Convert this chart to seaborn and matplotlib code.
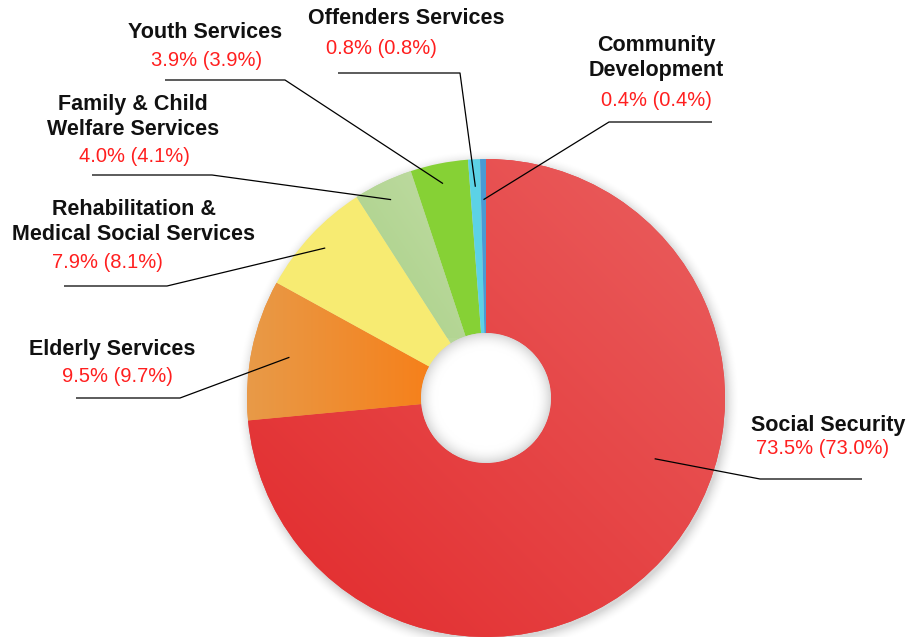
import numpy as np
import matplotlib
matplotlib.use("Agg")
import matplotlib.pyplot as plt
import matplotlib.colors as mcolors
from matplotlib.patches import Circle
import seaborn as sns

# data
categories = ["Social Security", "Elderly Services",
              "Rehabilitation &\nMedical Social Services",
              "Family & Child\nWelfare Services", "Youth Services",
              "Offenders Services", "Community\nDevelopment"]
share = [73.5, 9.5, 7.9, 4.0, 3.9, 0.8, 0.4]
share_prev = [73.0, 9.7, 8.1, 4.1, 3.9, 0.8, 0.4]

colors = ["#e63a3c", "#ec8d35", "#f7eb72", "#b6d797", "#86d135", "#5cd2e6", "#4a9ad3"]
# gradient end points for the shaded wedges
grads = {0: ("#e22a2c", "#ea5f5f"), 1: ("#e89a48", "#f6801a"), 3: ("#a7cf84", "#c2dda6")}

# layout in pixels (y down): title x, title y, pct x, pct y, elbow, line end, anchor radius, anchor frac
W, H = 906, 637
CX, CY, R, R_IN = 486, 398, 239, 65
layout = [
    (828, 426, 823, 449, (760, 479), (862, 479), 0.75, 0.415),
    (112, 349, 117, 377, (180, 398), (76, 398), 0.84, 0.5),
    (134, 222, 107, 262, (167, 286), (64, 286), 0.92, 0.5),
    (133, 117, 134, 156, (212, 175), (92, 175), 0.92, 0.5),
    (205, 32, 207, 60, (285, 80), (165, 80), 0.915, 0.5),
    (406, 19, 381, 48, (460, 73), (338, 73), 0.885, 0.5),
    (656, 58, 656, 100, (609, 122), (712, 122), 0.83, 0.5),
]


def fy(y):
    return H - y


sns.set_style("white")
plt.rcParams['font.family'] = ['Liberation Sans', 'DejaVu Sans']

fig = plt.figure(figsize=(W / 100, H / 100), dpi=100)
ax = fig.add_axes([0, 0, 1, 1])

# soft shadow round the ring
n = 600
gx, gy = np.meshgrid(np.linspace(-R - 30, R + 30, n), np.linspace(-R - 30, R + 30, n))
d = np.hypot(gx - 2, gy + 3) - R
alpha = np.clip(1 - d / 14, 0, 1) ** 2 * 0.16
alpha[d < 0] = 0.16
shadow = np.zeros((n, n, 4))
shadow[..., 3] = alpha
ax.imshow(shadow, extent=[CX - R - 30, CX + R + 30, fy(CY) - R - 30, fy(CY) + R + 30],
          origin="lower", zorder=0, interpolation="bilinear")

wedges, _ = ax.pie(share, colors=colors, startangle=90, counterclock=False,
                   radius=R, center=(CX, fy(CY)), frame=True,
                   wedgeprops=dict(width=R - R_IN, linewidth=0))

for i, (c0, c1) in grads.items():
    w = wedges[i]
    m = 200
    xx, yy = np.meshgrid(np.linspace(0, 1, m), np.linspace(0, 1, m))
    t = xx if i == 1 else (xx + yy) / 2
    a = np.array(mcolors.to_rgb(c0))
    b = np.array(mcolors.to_rgb(c1))
    img = a + (b - a) * t[..., None]
    if i == 1:
        ext = [CX - R, CX - R_IN + 10, fy(CY) - 40, fy(CY) + 120]
    elif i == 0:
        ext = [CX - R, CX + R, fy(CY) - R, fy(CY) + R]
    else:
        ext = [CX - 140, CX - 20, fy(CY) + 60, fy(CY) + R]
    im = ax.imshow(img, extent=ext, origin="lower", zorder=2, interpolation="bilinear")
    im.set_clip_path(w)

# hole with a light inner shadow
hx, hy = np.meshgrid(np.linspace(-R_IN, R_IN, 200), np.linspace(-R_IN, R_IN, 200))
hr = np.hypot(hx, hy) / R_IN
shade = 1 - np.clip((hr - 0.75) / 0.25, 0, 1) ** 2 * 0.15
hole = np.dstack([shade, shade, shade])
him = ax.imshow(hole, extent=[CX - R_IN, CX + R_IN, fy(CY) - R_IN, fy(CY) + R_IN],
                origin="lower", zorder=3, interpolation="bilinear")
hc = Circle((CX, fy(CY)), R_IN, transform=ax.transData, fc="none", lw=0)
ax.add_patch(hc)
him.set_clip_path(hc)

# labels and leader lines
for i, w in enumerate(wedges):
    tx, ty, px, py, elbow, end, rf, fr = layout[i]
    ang = np.deg2rad(w.theta2 - fr * (w.theta2 - w.theta1))
    x0 = CX + rf * R * np.cos(ang)
    y0 = fy(CY) + rf * R * np.sin(ang)
    ax.plot([x0, elbow[0], end[0]], [y0, fy(elbow[1]), fy(end[1])],
            color="black", lw=0.9, zorder=5, solid_capstyle="butt")
    ax.text(tx, fy(ty), categories[i], ha="center", va="center", fontsize=15.5,
            fontweight="bold", color="#111111", linespacing=1.25, zorder=6)
    ax.text(px, fy(py), f"{share[i]:.1f}% ({share_prev[i]:.1f}%)", ha="center",
            va="center", fontsize=14.5, color="#ff1f1f", zorder=6)

ax.set_xlim(0, W)
ax.set_ylim(0, H)
ax.set_aspect("equal")
ax.axis("off")
fig.savefig("out.png", dpi=100, facecolor="white")
